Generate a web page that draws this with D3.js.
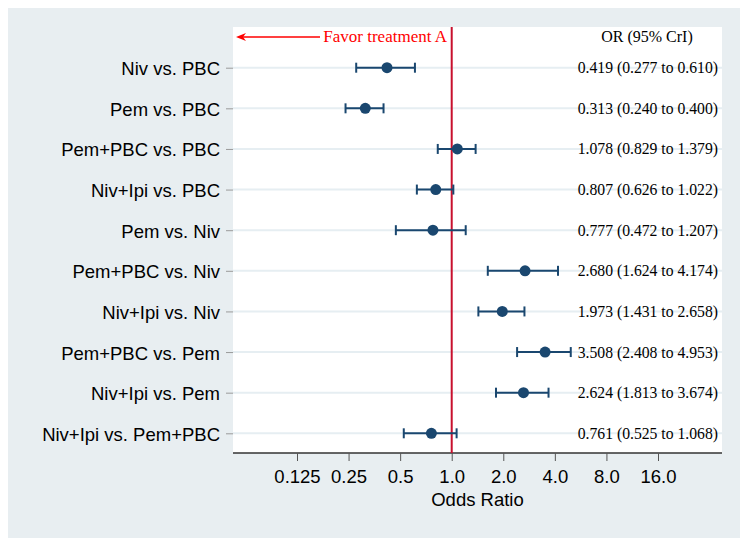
<!DOCTYPE html>
<html><head><meta charset="utf-8">
<script src="https://cdn.jsdelivr.net/npm/d3@7"></script>
<style>body{margin:0;background:#fff;}svg{display:block;}</style>
</head><body>
<script>
const comparisons = ["Niv vs. PBC","Pem vs. PBC","Pem+PBC vs. PBC","Niv+Ipi vs. PBC","Pem vs. Niv","Pem+PBC vs. Niv","Niv+Ipi vs. Niv","Pem+PBC vs. Pem","Niv+Ipi vs. Pem","Niv+Ipi vs. Pem+PBC"];
const orValues = [0.419,0.313,1.078,0.807,0.777,2.680,1.973,3.508,2.624,0.761];
const lowerCI = [0.277,0.240,0.829,0.626,0.472,1.624,1.431,2.408,1.813,0.525];
const upperCI = [0.610,0.400,1.379,1.022,1.207,4.174,2.658,4.953,3.674,1.068];
const xTicks = [0.125,0.25,0.5,1,2,4,8,16];
const xTickLabels = ["0.125","0.25","0.5","1.0","2.0","4.0","8.0","16.0"];

const W=748,H=547;
const sans="'Liberation Sans',Arial,sans-serif", serif="'Liberation Serif','Times New Roman',serif";
const svg=d3.select("body").append("svg").attr("width",W).attr("height",H);
svg.append("rect").attr("x",8).attr("y",8).attr("width",732).attr("height",530).attr("fill","#e8eef1");
const P={l:233,t:27,r:722,b:453};
svg.append("rect").attr("x",P.l).attr("y",P.t).attr("width",P.r-P.l).attr("height",P.b-P.t).attr("fill","#fff");

const x=d3.scaleLog().base(2).domain([0.125,16]).range([297,658]);
const y=d3.scalePoint().domain(comparisons).range([67.7,433.3]);

// gridlines
svg.append("g").selectAll("line").data(comparisons).join("line")
 .attr("x1",P.l).attr("x2",P.r).attr("y1",d=>y(d)).attr("y2",d=>y(d))
 .attr("stroke","#e6eef2").attr("stroke-width",2);

// y axis
const ya=svg.append("g").attr("transform",`translate(${P.l},0)`)
 .call(d3.axisLeft(y).tickSize(7).tickPadding(6));
ya.select(".domain").remove();
ya.selectAll(".tick line").attr("stroke","#9a9a9a").attr("stroke-width",1);
ya.selectAll(".tick text").attr("font-family",sans).attr("font-size","18.5px").attr("fill","#000").attr("dy","0.38em");

// x axis
const xa=svg.append("g").attr("transform",`translate(0,${P.b})`)
 .call(d3.axisBottom(x).tickValues(xTicks).tickFormat((d,i)=>xTickLabels[i]).tickSize(8).tickSizeOuter(0).tickPadding(9));
xa.select(".domain").attr("d",`M${P.l},0H${P.r}`).attr("stroke","#333").attr("stroke-width",1.5);
xa.selectAll(".tick line").attr("stroke","#555").attr("stroke-width",1);
xa.selectAll(".tick text").attr("font-family",sans).attr("font-size","18.5px").attr("fill","#000");
svg.append("text").attr("x",(P.l+P.r)/2).attr("y",506).attr("text-anchor","middle")
 .attr("font-family",sans).attr("font-size","18.5px").text("Odds Ratio");

// reference line
svg.append("line").attr("x1",x(1)).attr("x2",x(1)).attr("y1",P.t).attr("y2",P.b).attr("stroke","#c8102e").attr("stroke-width",2);

// favor arrow
svg.append("path").attr("d","M236,37L246,33L243,37L246,41Z").attr("fill","#ff0000");
svg.append("line").attr("x1",242).attr("x2",320).attr("y1",37).attr("y2",37).attr("stroke","#ff0000").attr("stroke-width",1.5);
svg.append("text").attr("x",447).attr("y",42).attr("text-anchor","end").attr("fill","#ff0000")
 .attr("font-family",serif).attr("font-size","17px").text("Favor treatment A");
svg.append("text").attr("x",647).attr("y",42).attr("text-anchor","middle").attr("fill","#000")
 .attr("font-family",serif).attr("font-size","16px").text("OR (95% CrI)");

// error bars
const col="#1a476f";
const g=svg.append("g");
comparisons.forEach((c,i)=>{
  const yy=y(c);
  g.append("line").attr("x1",x(lowerCI[i])).attr("x2",x(upperCI[i])).attr("y1",yy).attr("y2",yy).attr("stroke",col).attr("stroke-width",2);
  [lowerCI[i],upperCI[i]].forEach(v=>{
    g.append("line").attr("x1",x(v)).attr("x2",x(v)).attr("y1",yy-5).attr("y2",yy+5).attr("stroke",col).attr("stroke-width",2);
  });
  g.append("circle").attr("cx",x(orValues[i])).attr("cy",yy).attr("r",5.5).attr("fill",col);
  svg.append("text").attr("x",718).attr("y",yy+5.5).attr("text-anchor","end")
   .attr("font-family",serif).attr("font-size","15.7px").attr("fill","#000")
   .text(`${orValues[i].toFixed(3)} (${lowerCI[i].toFixed(3)} to ${upperCI[i].toFixed(3)})`);
});
</script>
</body></html>
